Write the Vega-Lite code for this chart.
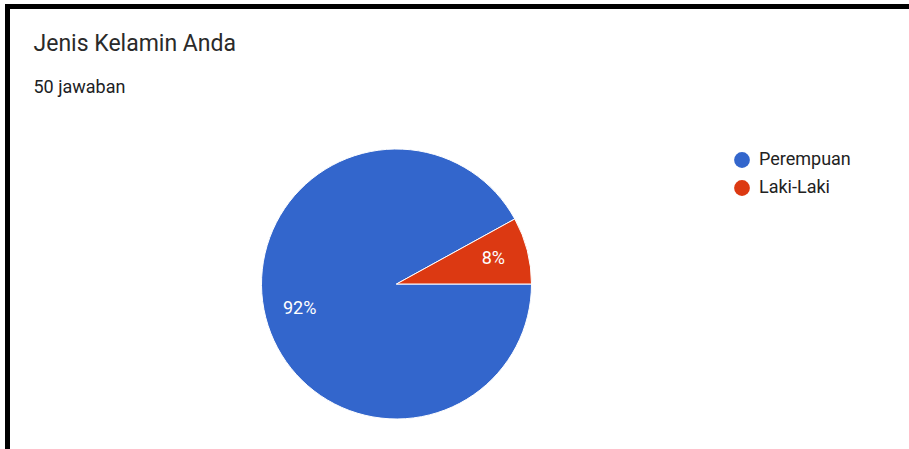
{
  "$schema": "https://vega.github.io/schema/vega-lite/v6.json",
  "autosize": "none",
  "width": 911.5,
  "height": 452.5,
  "padding": {"left": 7.5, "top": 6.5, "right": -10, "bottom": -10},
  "background": "white",
  "config": {
    "font": "Roboto",
    "style": {"view": {"stroke": "black", "strokeWidth": 5}}
  },
  "view": {"stroke": "black", "strokeWidth": 5},
  "title": {
    "text": "Jenis Kelamin Anda",
    "subtitle": "50 jawaban",
    "anchor": "start",
    "frame": "group",
    "orient": "top",
    "offset": -90,
    "dx": 26,
    "font": "Roboto",
    "fontSize": 23,
    "fontWeight": "normal",
    "color": "#2a2a2a",
    "subtitleFont": "Roboto",
    "subtitleFontSize": 18,
    "subtitleColor": "#202124",
    "subtitlePadding": 23
  },
  "data": {
    "values": [
      {"jenis": "Perempuan", "jumlah": 46, "persen": 0.92},
      {"jenis": "Laki-Laki", "jumlah": 4, "persen": 0.08}
    ]
  },
  "encoding": {
    "theta": {
      "field": "jumlah",
      "type": "quantitative",
      "stack": true,
      "scale": {"range": [1.5707963267948966, 7.853981633974483]}
    },
    "order": {"field": "jumlah", "type": "quantitative", "sort": "descending"}
  },
  "layer": [
    {
      "mark": {
        "type": "arc",
        "outerRadius": 135,
        "stroke": "white",
        "strokeWidth": 1,
        "xOffset": -66.75,
        "yOffset": 51.25
      },
      "encoding": {
        "color": {
          "field": "jenis",
          "type": "nominal",
          "scale": {
            "domain": ["Perempuan", "Laki-Laki"],
            "range": ["#3366CC", "#DC3912"]
          },
          "legend": {
            "title": null,
            "orient": "none",
            "legendX": 725.5,
            "legendY": 144.5,
            "symbolType": "circle",
            "symbolSize": 250,
            "symbolStrokeWidth": 0,
            "labelFont": "Roboto",
            "labelFontSize": 18,
            "labelColor": "#222222",
            "labelOffset": 8,
            "rowPadding": 10,
            "padding": 0
          }
        }
      }
    },
    {
      "mark": {
        "type": "text",
        "radius": 100,
        "xOffset": -66.75,
        "yOffset": 51.25,
        "color": "white",
        "font": "Roboto",
        "fontSize": 18
      },
      "encoding": {
        "detail": {"field": "jenis", "type": "nominal"},
        "text": {"field": "persen", "type": "quantitative", "format": ".0%"}
      }
    }
  ]
}
